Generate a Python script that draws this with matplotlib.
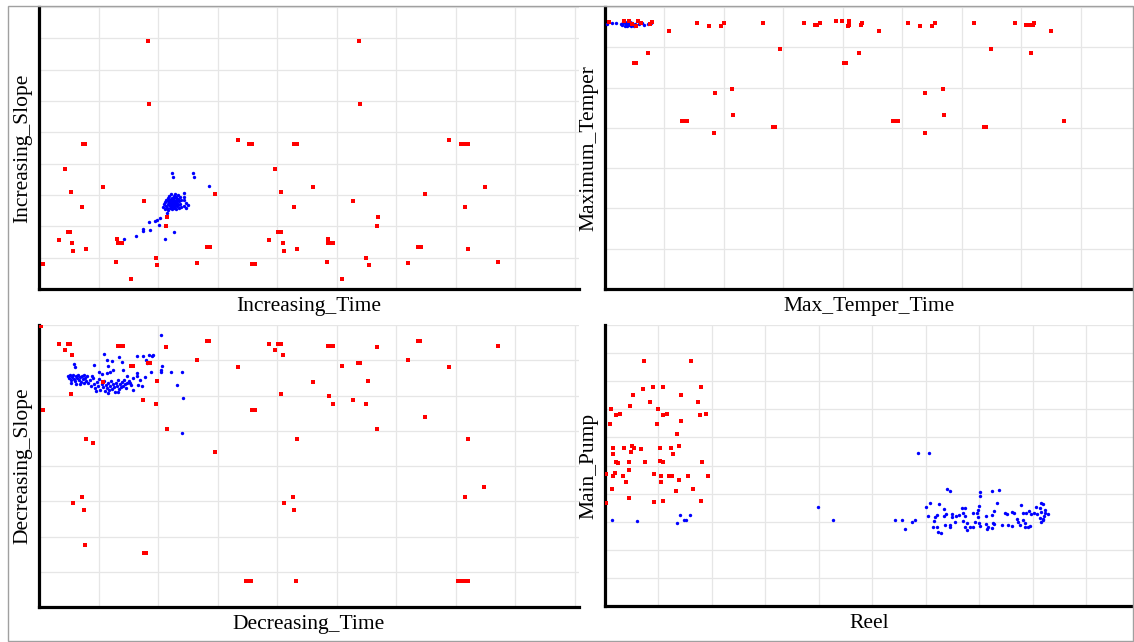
import numpy as np
import matplotlib
matplotlib.use("Agg")
import matplotlib.pyplot as plt
from matplotlib.patches import Rectangle

# ---- data (grid units, no tick labels in the original) ----
inc_red = [(1.83, 7.92), (5.37, 7.92), (1.85, 5.91), (5.39, 5.91), (0.74, 4.63), (0.78, 4.63),
           (3.35, 4.77), (3.53, 4.63), (3.57, 4.63), (4.29, 4.63), (4.33, 4.63), (6.89, 4.77),
           (7.08, 4.63), (7.12, 4.63), (7.16, 4.63), (7.20, 4.63), (0.43, 3.82), (3.97, 3.82),
           (1.08, 3.27), (4.61, 3.27), (7.49, 3.27), (0.54, 3.09), (2.95, 3.04), (4.07, 3.09),
           (6.49, 3.04), (1.76, 2.82), (5.28, 2.82), (0.73, 2.62), (4.28, 2.62), (7.15, 2.62),
           (2.15, 2.29), (5.69, 2.29), (2.13, 2.00), (5.68, 2.00), (0.48, 1.82), (0.52, 1.82),
           (4.02, 1.82), (4.06, 1.82), (0.34, 1.56), (1.31, 1.60), (1.32, 1.48), (1.36, 1.48),
           (1.40, 1.48), (3.87, 1.56), (4.86, 1.60), (4.85, 1.48), (4.89, 1.48), (4.93, 1.48),
           (0.56, 1.48), (4.10, 1.48), (0.57, 1.22), (0.79, 1.27), (4.12, 1.22), (4.34, 1.27),
           (2.82, 1.34), (2.87, 1.34), (6.36, 1.34), (6.41, 1.34), (7.21, 1.27), (1.96, 0.99),
           (5.49, 0.99), (0.07, 0.80), (1.30, 0.87), (1.99, 0.76), (2.65, 0.83), (3.58, 0.80),
           (3.62, 0.80), (4.83, 0.87), (5.54, 0.76), (6.19, 0.83), (7.71, 0.87), (1.55, 0.31),
           (5.09, 0.31)]
inc_blue = [(2.23, 3.70), (2.25, 3.57), (2.59, 3.70), (2.61, 3.57), (2.85, 3.29), (2.15, 2.42),
            (2.03, 2.26), (1.99, 2.20), (1.94, 2.18), (1.85, 2.14), (2.01, 2.04), (1.75, 1.90),
            (1.75, 1.84), (1.87, 1.87), (1.63, 1.69), (1.43, 1.59), (2.12, 1.59), (2.27, 1.82),
            (2.44, 3.05), (2.44, 2.93), (2.44, 2.83), (2.47, 2.74), (2.44, 2.64), (2.47, 2.58),
            (2.50, 2.68),
            (2.08, 2.62), (2.10, 2.70), (2.11, 2.55), (2.12, 2.78), (2.13, 2.66), (2.14, 2.85),
            (2.15, 2.60), (2.16, 2.72), (2.17, 2.90), (2.17, 2.52), (2.18, 2.80), (2.19, 2.67),
            (2.19, 2.96), (2.20, 2.74), (2.20, 2.58), (2.21, 2.86), (2.22, 2.70), (2.22, 3.02),
            (2.23, 2.63), (2.23, 2.92), (2.24, 2.78), (2.24, 2.55), (2.25, 2.84), (2.25, 2.68),
            (2.26, 2.98), (2.26, 2.74), (2.27, 2.60), (2.27, 2.89), (2.28, 2.80), (2.28, 2.66),
            (2.29, 3.04), (2.29, 2.72), (2.30, 2.94), (2.30, 2.56), (2.31, 2.84), (2.31, 2.64),
            (2.32, 2.76), (2.33, 2.99), (2.33, 2.68), (2.34, 2.88), (2.35, 2.60), (2.35, 2.80),
            (2.36, 2.93), (2.37, 2.70), (2.38, 2.84), (2.38, 2.62), (2.21, 2.77), (2.23, 2.82),
            (2.26, 2.79), (2.19, 2.84), (2.29, 2.78), (2.16, 2.80), (2.32, 2.86), (2.25, 2.90),
            (2.27, 2.70), (2.22, 2.64)]

temp_red = [(0.06, 6.62), (0.32, 6.66), (0.41, 6.66), (0.56, 6.66), (0.52, 6.54), (0.45, 6.58),
            (0.60, 6.60), (0.76, 6.59), (0.79, 6.62), (1.08, 6.41), (1.55, 6.61), (1.75, 6.52),
            (1.96, 6.52), (2.00, 6.61), (2.66, 6.61), (3.35, 6.61), (3.53, 6.56), (3.57, 6.56),
            (3.61, 6.61), (3.88, 6.66), (3.98, 6.66), (4.08, 6.52), (4.11, 6.66), (4.10, 6.56),
            (4.30, 6.56), (4.33, 6.61), (4.61, 6.41), (5.10, 6.61), (5.30, 6.52), (5.50, 6.52),
            (5.55, 6.61), (6.20, 6.61), (6.90, 6.61), (7.08, 6.56), (7.12, 6.56), (7.16, 6.56),
            (7.20, 6.56), (7.22, 6.61), (7.50, 6.41), (2.95, 5.96), (6.50, 5.96), (0.73, 5.86),
            (4.28, 5.86), (7.16, 5.86), (0.49, 5.61), (0.52, 5.61), (4.02, 5.61), (4.06, 5.61),
            (2.13, 4.97), (5.68, 4.97), (1.85, 4.87), (5.39, 4.87), (2.16, 4.31), (5.70, 4.31),
            (1.30, 4.16), (1.34, 4.16), (1.38, 4.16), (4.85, 4.16), (4.89, 4.16), (4.93, 4.16),
            (7.72, 4.16), (2.82, 4.01), (2.86, 4.01), (6.37, 4.01), (6.41, 4.01), (1.83, 3.86),
            (5.38, 3.86)]
temp_blue = [(0.04, 6.59), (0.11, 6.60), (0.18, 6.60), (0.27, 6.58), (0.29, 6.55), (0.31, 6.61),
             (0.33, 6.54), (0.35, 6.58), (0.37, 6.52), (0.39, 6.60), (0.41, 6.56), (0.43, 6.53),
             (0.45, 6.59), (0.47, 6.55), (0.49, 6.52), (0.51, 6.58), (0.30, 6.63), (0.34, 6.62),
             (0.38, 6.63), (0.42, 6.62), (0.46, 6.61), (0.50, 6.55), (0.36, 6.57), (0.44, 6.58),
             (0.58, 6.57), (0.62, 6.60), (0.66, 6.56), (0.72, 6.58), (0.77, 6.60)]

dec_red = [(0.04, 7.98), (0.34, 7.45), (0.43, 7.30), (0.48, 7.45), (0.52, 7.45), (0.56, 7.16),
           (1.33, 7.40), (1.37, 7.40), (1.41, 7.40), (1.54, 6.85), (1.58, 6.85), (1.83, 6.93),
           (1.87, 6.93), (2.13, 7.37), (1.99, 6.40), (2.82, 7.56), (2.86, 7.56), (2.65, 7.01),
           (3.35, 6.82), (3.87, 7.45), (4.02, 7.45), (4.06, 7.45), (3.97, 7.30), (4.10, 7.16),
           (4.85, 7.40), (4.89, 7.40), (4.93, 7.40), (5.67, 7.37), (5.09, 6.85), (5.36, 6.93),
           (5.40, 6.93), (6.36, 7.56), (6.40, 7.56), (6.19, 7.01), (6.89, 6.82), (7.71, 7.40),
           (4.61, 6.39), (5.53, 6.40), (0.54, 6.05), (4.06, 6.05), (4.87, 6.00), (4.93, 5.76),
           (5.28, 5.87), (5.49, 5.76), (1.75, 5.87), (1.96, 5.76), (1.08, 6.39), (0.07, 5.59),
           (3.58, 5.59), (3.62, 5.59), (6.49, 5.39), (2.15, 5.04), (5.68, 5.04), (0.79, 4.76),
           (0.91, 4.66), (4.33, 4.76), (7.21, 4.76), (2.95, 4.39), (7.48, 3.41), (0.73, 3.12),
           (4.27, 3.12), (7.15, 3.12), (0.57, 2.94), (4.11, 2.94), (0.75, 2.75), (4.29, 2.75),
           (0.77, 1.75), (1.76, 1.53), (1.80, 1.53), (3.48, 0.75), (3.52, 0.75), (3.56, 0.75),
           (4.32, 0.75), (7.04, 0.75), (7.08, 0.75), (7.12, 0.75), (7.16, 0.75), (7.20, 0.75)]
dec_blue = [(2.05, 7.73), (1.10, 7.19), (0.59, 6.90), (0.61, 6.81), (0.93, 6.87), (1.14, 7.02),
            (1.16, 6.83), (1.22, 6.97), (1.34, 7.09), (1.40, 6.95), (1.64, 7.11), (1.75, 7.11),
            (1.79, 7.02), (1.85, 7.15), (1.89, 7.11), (1.91, 7.15), (1.82, 6.92), (2.06, 6.85),
            (2.05, 6.73), (2.05, 6.66), (2.22, 6.66), (1.88, 6.68), (1.41, 6.73), (1.25, 6.73),
            (1.64, 6.64), (1.58, 6.50), (1.53, 6.36), (1.70, 6.45), (1.73, 6.26), (2.31, 6.31),
            (2.42, 5.93), (2.41, 6.66), (2.41, 4.94), (1.00, 6.66), (1.05, 6.62), (1.14, 6.64),
            (1.19, 6.66),
            (0.48, 6.56), (0.50, 6.51), (0.52, 6.59), (0.54, 6.45), (0.56, 6.53), (0.57, 6.58),
            (0.59, 6.48), (0.61, 6.42), (0.62, 6.56), (0.64, 6.51), (0.66, 6.59), (0.67, 6.45),
            (0.69, 6.53), (0.71, 6.39), (0.72, 6.56), (0.74, 6.48), (0.76, 6.59), (0.77, 6.51),
            (0.79, 6.42), (0.81, 6.56), (0.54, 6.36), (0.62, 6.34), (0.69, 6.34), (0.76, 6.36),
            (0.82, 6.36), (0.86, 6.45), (0.87, 6.28), (0.91, 6.51), (0.92, 6.34), (0.94, 6.22),
            (0.97, 6.39), (0.99, 6.28), (1.01, 6.48), (1.03, 6.16), (1.06, 6.34), (1.08, 6.25),
            (1.09, 6.42), (1.11, 6.14), (1.13, 6.31), (1.14, 6.22), (1.16, 6.36), (1.18, 6.16),
            (1.19, 6.28), (1.21, 6.42), (1.23, 6.19), (1.24, 6.34), (1.26, 6.25), (1.28, 6.11),
            (1.29, 6.36), (1.31, 6.28), (1.33, 6.45), (1.34, 6.19), (1.36, 6.34), (1.38, 6.25),
            (1.39, 6.39), (1.41, 6.28), (1.43, 6.45), (1.45, 6.34), (1.46, 6.22), (1.48, 6.36),
            (1.33, 6.11), (1.16, 6.08), (0.96, 6.14), (0.89, 6.56), (1.48, 6.54), (1.51, 6.40),
            (1.55, 6.31), (1.64, 6.54), (1.66, 6.29), (1.58, 6.16), (1.78, 6.53)]

pump_red = [(0.72, 8.72), (1.60, 8.72), (0.53, 7.51), (0.71, 7.74), (0.89, 7.80), (1.08, 7.80),
            (1.43, 7.51), (1.79, 7.80), (0.46, 7.12), (0.84, 7.26), (1.00, 7.00), (1.73, 7.26),
            (0.11, 7.00), (0.20, 6.80), (0.28, 6.82), (1.08, 6.80), (1.16, 6.82), (1.78, 6.80),
            (1.88, 6.82), (0.09, 6.47), (0.97, 6.47), (1.43, 6.60), (1.35, 6.13), (0.15, 5.63),
            (0.35, 5.63), (0.50, 5.69), (0.55, 5.63), (0.67, 5.60), (1.03, 5.63), (1.23, 5.63),
            (1.39, 5.69), (0.15, 5.41), (0.49, 5.47), (1.28, 5.41), (0.21, 5.13), (0.24, 5.09),
            (0.44, 5.12), (0.74, 5.14), (1.02, 5.15), (1.09, 5.13), (1.81, 5.12), (0.44, 4.85),
            (0.18, 4.72), (0.15, 4.63), (0.34, 4.63), (0.91, 4.69), (1.04, 4.63), (1.20, 4.63),
            (1.25, 4.63), (1.55, 4.62), (1.93, 4.63), (0.39, 4.41), (1.04, 4.41), (1.39, 4.47),
            (0.02, 4.68), (0.14, 4.16), (1.33, 4.11), (1.64, 4.15), (0.45, 3.85), (0.91, 3.70),
            (1.08, 3.73), (1.80, 3.74), (0.02, 3.68)]
pump_blue = [(0.13, 3.06), (0.60, 3.02), (1.35, 2.95), (1.41, 3.25), (1.47, 3.05), (1.52, 3.07),
             (1.59, 3.23), (3.99, 3.52), (4.27, 3.05), (5.85, 5.44), (6.06, 5.45),
             (6.40, 4.15), (6.45, 4.10), (6.01, 3.53), (6.07, 3.68), (6.24, 3.62), (6.34, 3.44),
             (6.04, 3.21), (6.17, 3.18), (6.21, 3.24), (6.34, 3.21), (6.37, 3.27), (6.48, 3.26),
             (6.49, 3.18), (6.57, 3.21), (6.62, 3.24), (6.67, 3.48), (6.73, 3.48), (6.70, 3.30),
             (6.73, 3.20), (6.16, 3.04), (6.14, 2.82), (6.21, 2.82), (6.23, 2.64), (6.29, 2.59),
             (6.36, 2.88), (6.45, 2.88), (6.45, 2.82), (6.54, 3.00), (6.70, 3.04), (6.76, 2.94),
             (6.73, 2.82), (6.76, 2.70), (6.82, 2.82), (6.88, 2.82), (6.88, 3.30), (5.56, 3.06),
             (5.74, 3.00), (5.79, 3.06), (5.42, 3.06), (5.61, 2.73),
             (7.02, 4.07), (7.24, 4.10), (7.37, 4.13), (7.01, 3.91), (6.99, 3.56), (7.32, 3.65),
             (6.97, 3.42), (6.95, 3.30), (6.98, 3.18), (7.13, 3.20), (7.24, 3.24), (7.27, 3.38),
             (7.48, 3.30), (7.51, 3.26), (7.60, 3.35), (7.65, 3.30), (7.77, 3.59), (7.82, 3.30),
             (7.87, 3.30), (7.92, 3.37), (7.97, 3.26), (8.02, 3.30), (8.07, 3.28), (8.06, 3.53),
             (8.15, 3.65), (8.19, 3.62), (8.13, 3.48), (8.15, 3.36), (8.22, 3.30), (8.28, 3.27),
             (7.70, 3.09), (7.73, 3.00), (7.82, 3.06), (7.85, 2.97), (8.13, 3.12), (8.19, 3.09),
             (8.16, 3.00), (8.21, 3.20), (7.91, 2.82), (7.94, 2.85), (7.85, 2.82), (7.76, 2.88),
             (7.60, 2.85), (7.54, 2.88), (7.43, 2.88), (7.26, 2.97), (7.27, 2.92), (7.13, 2.92),
             (7.16, 2.82), (7.23, 2.79), (7.14, 2.73), (6.92, 3.00), (7.00, 2.94), (7.01, 2.85),
             (8.22, 3.42), (8.19, 3.06)]

panels = [
    # label_x, label_y, red, blue, xlim, ylim, rect (left, bottom, width, height in px)
    ("Increasing_Time", "Increasing_Slope", inc_red, inc_blue, 9.07, 9, (39, 353, 540, 282)),
    ("Max_Temper_Time", "Maximum_Temper", temp_red, temp_blue, 8.9, 7, (605, 353, 529, 282)),
    ("Decreasing_Time", "Decreasing_Slope", dec_red, dec_blue, 9.07, 8, (39, 35, 540, 282)),
    ("Reel", "Main_Pump", pump_red, pump_blue, 9.89, 10, (605, 36, 529, 281)),
]

W, H = 1134, 642
plt.rcParams['font.family'] = ['Liberation Serif', 'DejaVu Serif']
fig = plt.figure(figsize=(W / 100, H / 100), dpi=100)

for xl, yl, red, blue, xmax, ymax, (l, b, w, h) in panels:
    ax = fig.add_axes([l / W, b / H, w / W, h / H])
    red = np.array(red)
    blue = np.array(blue)
    ax.scatter(blue[:, 0], blue[:, 1], s=6, c='#0000ff', marker='o', linewidths=0, zorder=3)
    ax.scatter(red[:, 0], red[:, 1], s=11, c='#ff0000', marker='s', linewidths=0, zorder=4)
    ax.set_xlim(0, xmax)
    ax.set_ylim(0, ymax)
    ax.set_xticks(np.arange(1, int(xmax) + 1))
    ax.set_yticks(np.arange(1, ymax + 1))
    ax.grid(True, color='#e6e6e6', linewidth=0.9)
    ax.set_axisbelow(True)
    ax.tick_params(length=0, labelbottom=False, labelleft=False)
    for side in ('top', 'right'):
        ax.spines[side].set_visible(False)
    for side in ('left', 'bottom'):
        ax.spines[side].set_linewidth(2.3)
        ax.spines[side].set_color('black')
    ax.set_xlabel(xl, fontsize=15.5, labelpad=6)
    ax.set_ylabel(yl, fontsize=15.5, labelpad=5)

# thin frame around the whole figure
fig.patches.append(Rectangle((8 / W, 1 / H), 1125 / W, 635 / H, transform=fig.transFigure,
                             fill=False, edgecolor='#a0a0a0', linewidth=1))

fig.savefig("out.png", dpi=100)
